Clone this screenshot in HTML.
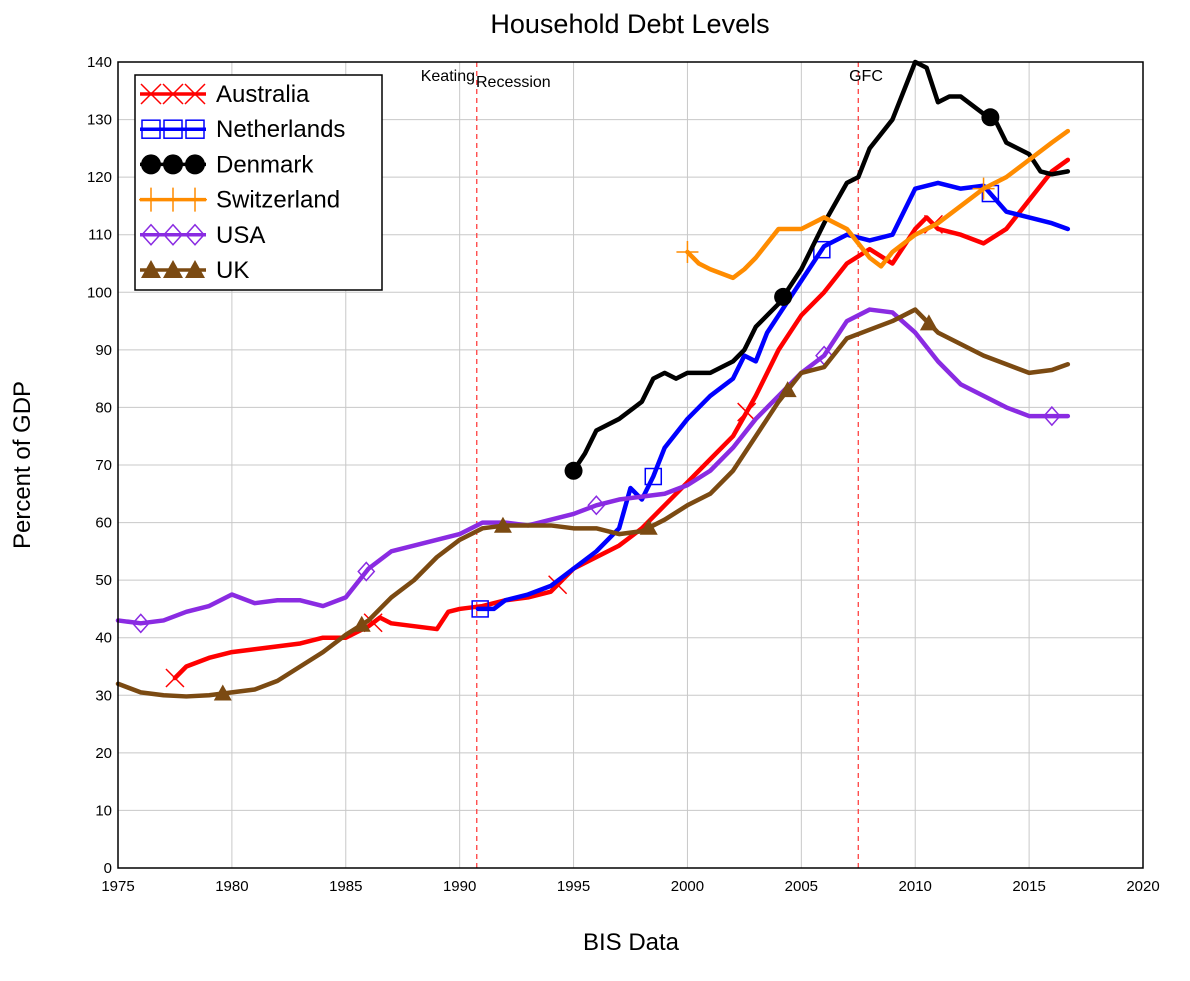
<!DOCTYPE html>
<html><head><meta charset="utf-8"><style>
body{margin:0;background:#fff;font-family:"Liberation Sans",sans-serif}
svg text{font-family:"Liberation Sans",sans-serif}
</style></head><body>
<svg id="chart" width="1190" height="976" xmlns="http://www.w3.org/2000/svg">
<text x="630" y="33" font-size="27" text-anchor="middle">Household Debt Levels</text>
<text x="631" y="950" font-size="24" text-anchor="middle">BIS Data</text>
<text transform="translate(30,465) rotate(-90)" font-size="24" text-anchor="middle">Percent of GDP</text>
<g id="grid"></g><g id="series"></g>
<rect x="118" y="62" width="1025" height="806" fill="none" stroke="#000" stroke-width="1.5"/>
<g id="legend"></g>
</svg>
<script>
const xTicks=[1975,1980,1985,1990,1995,2000,2005,2010,2015,2020];
const yTicks=[0,10,20,30,40,50,60,70,80,90,100,110,120,130,140];
const events=[1990.75,2007.5];
const ausX=[1977.5,1978,1979,1980,1981,1982,1983,1984,1985,1986,1986.5,1987,1988,1989,1989.5,1990,1991,1992,1993,1994,1995,1996,1997,1998,1999,2000,2001,2002,2003,2004,2005,2006,2007,2008,2009,2010,2010.5,2011,2012,2013,2014,2015,2016,2016.7];
const ausY=[33,35,36.5,37.5,38,38.5,39,40,40,42,43.5,42.5,42,41.5,44.5,45,45.5,46.5,47,48,52,54,56,59,63,67,71,75,82,90,96,100,105,107.5,105,111,113,111,110,108.5,111,116,121,123];
const nedX=[1990.8,1991.5,1992,1993,1994,1995,1996,1997,1997.5,1998,1998.5,1999,2000,2001,2002,2002.5,2003,2003.5,2004,2005,2006,2007,2008,2009,2010,2011,2012,2013,2014,2015,2016,2016.7];
const nedY=[45,45,46.5,47.5,49,52,55,59,66,64,68,73,78,82,85,89,88,93,96,102,108,110,109,110,118,119,118,118.5,114,113,112,111];
const denX=[1995,1995.5,1996,1997,1998,1998.5,1999,1999.5,2000,2001,2002,2002.5,2003,2004,2005,2006,2007,2007.5,2008,2009,2010,2010.5,2011,2011.5,2012,2013,2013.5,2014,2015,2015.5,2016,2016.7];
const denY=[69,72,76,78,81,85,86,85,86,86,88,90,94,98,104,112,119,120,125,130,140,139,133,134,134,131,130,126,124,121,120.5,121];
const swiX=[2000,2000.5,2001,2002,2002.5,2003,2004,2005,2006,2006.5,2007,2008,2008.5,2009,2010,2011,2012,2013,2014,2015,2016,2016.7];
const swiY=[107,105,104,102.5,104,106,111,111,113,112,111,106,104.5,107,110,112,115,118,120,123,126,128];
const usaX=[1975,1976,1977,1978,1979,1980,1981,1982,1983,1984,1985,1986,1987,1988,1989,1990,1991,1992,1993,1994,1995,1996,1997,1998,1999,2000,2001,2002,2003,2004,2005,2006,2007,2008,2009,2010,2011,2012,2013,2014,2015,2016,2016.7];
const usaY=[43,42.5,43,44.5,45.5,47.5,46,46.5,46.5,45.5,47,52,55,56,57,58,60,60,59.5,60.5,61.5,63,64,64.5,65,66.5,69,73,78,82,86,89,95,97,96.5,93,88,84,82,80,78.5,78.5,78.5];
const ukX=[1975,1976,1977,1978,1979,1980,1981,1982,1983,1984,1985,1986,1987,1988,1989,1990,1991,1992,1993,1994,1995,1996,1997,1998,1999,2000,2001,2002,2003,2004,2005,2006,2007,2008,2009,2010,2011,2012,2013,2014,2015,2016,2016.7];
const ukY=[32,30.5,30,29.8,30,30.5,31,32.5,35,37.5,40.5,43,47,50,54,57,59,59.5,59.5,59.5,59,59,58,58.5,60.5,63,65,69,75,81,86,87,92,93.5,95,97,93,91,89,87.5,86,86.5,87.5];
const seriesNames=["Australia","Netherlands","Denmark","Switzerland","USA","UK"];
const seriesColors=["#ff0000","#0000ff","#000000","#ff8c00","#8a2be2","#7b4a12"];
const markerYears=[[1977.5,1986.2,1994.3,2002.6,2010.8],[1990.9,1998.5,2005.9,2013.3],[1995,2004.2,2013.3],[2000,2013],[1976,1985.9,1996,2006,2016],[1979.6,1985.7,1991.9,1998.3,2004.4,2010.6]];
const allX=[ausX,nedX,denX,swiX,usaX,ukX], allY=[ausY,nedY,denY,swiY,usaY,ukY];
const markerTypes=["x","sq","circ","plus","dia","tri"];

const NS="http://www.w3.org/2000/svg";
const xs=v=>118+(v-1975)*1025/45, ys=v=>868-v*806/140;
function mk(tag,attrs,parent){const e=document.createElementNS(NS,tag);for(const k in attrs)e.setAttribute(k,attrs[k]);parent.appendChild(e);return e;}
const grid=document.getElementById('grid'),ser=document.getElementById('series'),leg=document.getElementById('legend');
xTicks.forEach(t=>{const l=mk('line',{x1:xs(t),x2:xs(t),y1:62,y2:868,stroke:'#c8c8c8','stroke-width':1},grid);

const tx=mk('text',{x:xs(t),y:891,'font-size':15,'text-anchor':'middle'},grid);tx.textContent=t;
});
yTicks.forEach(t=>{const l=mk('line',{x1:118,x2:1143,y1:ys(t),y2:ys(t),stroke:'#c8c8c8','stroke-width':1},grid);

const tx=mk('text',{x:112,y:ys(t)+5,'font-size':15,'text-anchor':'end'},grid);tx.textContent=t;
});
events.forEach(e=>{const l=mk('line',{x1:xs(e),x2:xs(e),y1:62,y2:868,stroke:'#ff4040','stroke-width':1.3,'stroke-dasharray':'5,4'},grid);
});
[["Keating",475,81,"end"],["Recession",476,87,"start"],["GFC",866,81,"middle"]].forEach(a=>{const t=mk('text',{x:a[1],y:a[2],'font-size':16,'text-anchor':a[3]},grid);t.textContent=a[0];
});
function marker(type,x,y,c,g,s){s=s||9;
if(type=="x"){mk('path',{d:`M${x-s} ${y-s}L${x+s} ${y+s}M${x-s} ${y+s}L${x+s} ${y-s}`,stroke:c,'stroke-width':1.5,fill:'none'},g);}
else if(type=="sq"){mk('rect',{x:x-s+1,y:y-s+1,width:2*s-2,height:2*s-2,stroke:c,'stroke-width':1.5,fill:'none'},g);}
else if(type=="circ"){mk('circle',{cx:x,cy:y,r:s,fill:c},g);}
else if(type=="plus"){mk('path',{d:`M${x-s-2} ${y}L${x+s+2} ${y}M${x} ${y-s-2}L${x} ${y+s+2}`,stroke:c,'stroke-width':1.5},g);}
else if(type=="dia"){mk('path',{d:`M${x} ${y-s}L${x+s-1} ${y}L${x} ${y+s}L${x-s+1} ${y}Z`,stroke:c,'stroke-width':1.5,fill:'none'},g);}
else {mk('path',{d:`M${x} ${y-s}L${x+s} ${y+s-2}L${x-s} ${y+s-2}Z`,fill:c},g);}}
function interp(X,Y,v){for(let i=0;i<X.length-1;i++)if(v>=X[i]&&v<=X[i+1])return Y[i]+(Y[i+1]-Y[i])*(v-X[i])/(X[i+1]-X[i]);return Y[Y.length-1];}
allX.forEach((X,i)=>{const g=mk('g',{},ser);

const p=mk('polyline',{points:X.map((x,j)=>xs(x)+','+ys(allY[i][j])).join(' '),fill:'none',stroke:seriesColors[i],'stroke-width':4.5,'stroke-linejoin':'round','stroke-linecap':'round'},g);

markerYears[i].forEach(m=>marker(markerTypes[i],xs(m),ys(interp(X,allY[i],m)),seriesColors[i],g));});
const lb=mk('rect',{x:135,y:75,width:247,height:215,fill:'#fff',stroke:'#000','stroke-width':1.5},leg);

seriesNames.forEach((n,i)=>{const y=94+i*35.2;const g=mk('g',{},leg);

mk('line',{x1:140,x2:206,y1:y,y2:y,stroke:seriesColors[i],'stroke-width':3.5},g);
[151,173,195].forEach(x=>marker(markerTypes[i],x,y,seriesColors[i],g,10));
const t=mk('text',{x:216,y:y+8,'font-size':24},g);t.textContent=n;});
</script>
</body></html>
